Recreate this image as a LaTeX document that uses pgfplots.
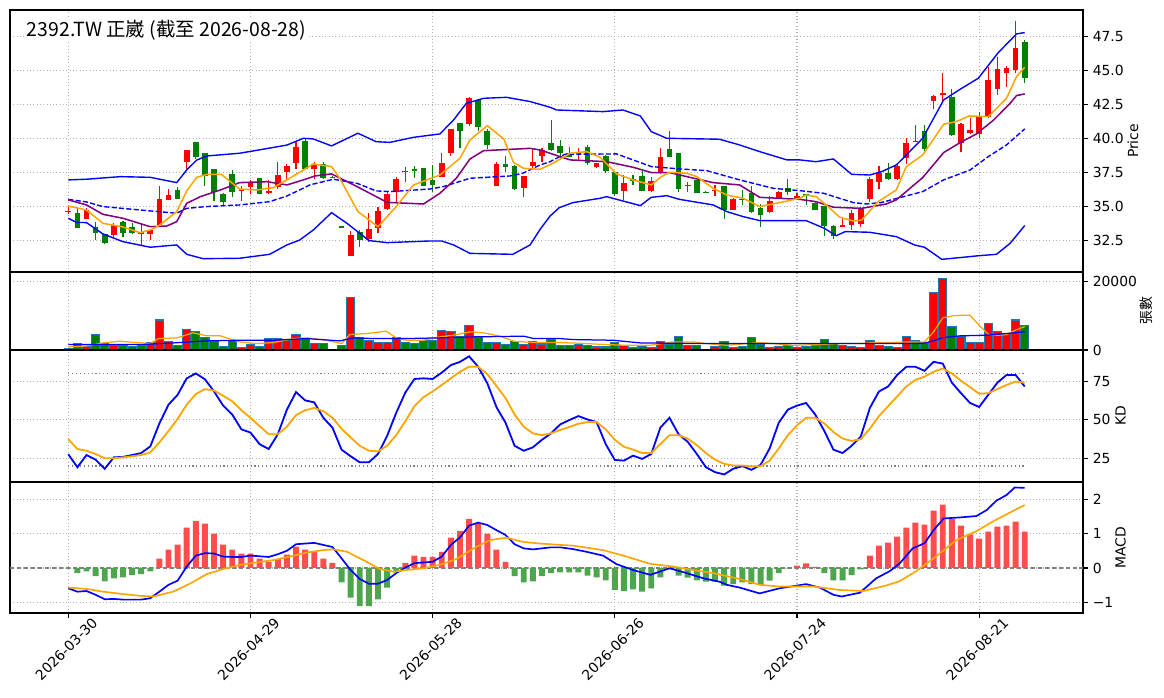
\documentclass[border=0pt]{standalone}
\usepackage{fontspec}
\setmainfont{DejaVu Sans}
\newfontfamily\cjk{Noto Sans CJK TC}
\usepackage{pgfplots}
\pgfplotsset{compat=1.18}
\usepackage{pgfplotstable}
\definecolor{cred}{RGB}{255,0,0}
\definecolor{cgreen}{RGB}{0,128,0}
\definecolor{hred}{RGB}{255,77,77}
\definecolor{hgreen}{RGB}{77,166,77}
\definecolor{vedge}{RGB}{31,119,180}
\definecolor{corange}{RGB}{255,165,0}
\definecolor{cpurple}{RGB}{128,0,128}
\definecolor{cblue}{RGB}{0,0,255}
\definecolor{gridc}{RGB}{176,176,176}

% ---------- candles ----------
\pgfplotstableread{
i o h l c
0 34.60 34.98 34.44 34.66
2 34.07 34.90 34.07 34.73
5 32.89 33.75 32.72 33.63
9 32.94 33.30 32.52 33.28
10 33.63 36.52 33.50 35.54
11 35.49 36.30 35.49 35.81
13 38.24 39.12 37.75 39.12
19 36.10 36.50 35.40 36.25
20 36.42 36.91 35.88 36.74
22 35.96 36.94 35.90 36.15
23 36.45 38.28 36.27 37.30
24 37.52 38.10 36.94 37.97
25 38.21 39.75 37.72 39.36
27 37.72 38.28 36.99 38.11
31 31.37 33.21 31.37 32.89
33 32.60 34.49 32.40 33.33
34 33.43 34.93 33.06 34.66
35 34.80 36.08 34.73 35.91
36 36.03 37.13 35.29 36.99
41 37.13 38.90 37.13 38.16
42 38.90 40.70 38.70 40.66
44 41.05 43.00 40.93 42.94
47 36.52 38.28 36.50 38.11
50 36.37 37.25 35.66 37.21
51 37.97 39.19 37.80 38.26
52 38.68 39.26 38.28 39.14
56 38.85 39.26 38.40 38.99
58 37.92 38.20 37.79 38.16
61 36.15 37.30 35.47 36.69
64 36.13 37.18 36.03 36.86
65 37.48 39.26 37.40 38.63
68 36.48 36.81 36.03 36.56
71 36.11 36.57 35.76 36.19
73 34.73 35.60 34.70 35.54
77 34.61 35.76 34.50 35.39
78 35.51 36.10 35.50 36.05
80 35.51 36.00 35.45 35.76
85 33.51 34.24 33.50 33.59
86 33.63 34.73 33.26 34.49
87 33.68 34.93 33.50 34.78
88 35.56 37.18 35.34 36.99
89 36.81 37.97 36.25 37.43
91 36.99 38.20 36.95 37.97
92 38.53 40.00 38.11 39.63
95 42.77 43.15 42.13 43.11
96 43.21 44.78 42.60 43.33
98 39.68 41.10 39.02 41.05
99 40.37 41.47 40.30 40.61
100 40.32 41.91 40.05 41.64
101 41.54 45.27 41.50 44.29
102 43.63 45.96 43.19 45.10
103 44.78 45.32 43.80 45.20
104 45.02 48.60 44.78 46.62
}\upc
\pgfplotstableread{
i o h l c
1 34.49 34.93 33.43 33.43
3 33.48 33.82 32.52 33.06
4 32.94 32.94 32.23 32.33
6 33.85 33.90 32.77 33.06
7 33.48 33.80 33.00 33.06
8 33.14 33.75 32.16 32.94
12 36.20 36.40 35.50 35.56
14 39.70 39.70 38.48 38.65
15 38.90 38.90 36.50 37.23
16 37.72 37.72 35.39 36.03
17 35.91 35.95 35.10 35.34
18 37.35 37.67 35.66 36.03
21 37.06 37.10 35.90 35.93
26 39.80 39.93 37.72 37.72
28 38.11 38.25 37.00 37.11
29 37.17 37.20 37.05 37.09
30 33.52 33.55 33.45 33.44
32 33.09 33.26 32.03 32.52
37 37.59 37.87 36.76 37.51
38 37.71 37.99 37.06 37.63
39 37.79 37.80 36.50 36.52
40 36.94 38.04 36.08 36.57
43 41.10 41.10 39.26 40.56
45 42.82 42.85 40.50 40.81
46 40.54 40.66 39.19 39.53
48 38.11 38.73 37.55 37.92
49 37.97 38.00 36.20 36.27
53 39.63 41.35 39.10 39.14
54 39.44 39.88 38.53 38.90
55 38.90 39.34 38.60 38.65
57 39.34 39.50 38.04 38.16
59 38.73 38.80 37.47 37.62
60 37.50 37.50 35.76 35.90
62 37.01 37.30 36.57 36.86
63 37.23 37.62 36.10 36.13
66 39.22 40.54 38.60 38.65
67 38.92 38.95 36.03 36.30
69 36.94 36.95 35.95 36.00
70 36.07 36.10 36.00 35.99
72 36.50 36.50 34.04 34.73
74 35.56 36.20 35.10 35.47
75 36.00 36.52 34.50 34.56
76 34.85 35.17 33.50 34.36
79 36.32 36.98 35.83 36.08
81 35.90 35.92 35.10 35.78
82 35.27 35.30 34.70 34.73
83 35.02 35.05 32.84 33.58
84 33.53 33.60 32.57 32.84
90 37.43 38.21 36.95 36.99
93 39.82 40.96 39.70 39.76
94 40.54 40.98 38.90 39.19
97 43.01 43.60 40.20 40.27
105 47.08 47.23 44.10 44.46
}\dnc

% ---------- volume ----------
\pgfplotstableread{
i v
0 490
2 980
5 1370
9 2160
10 8720
11 2550
13 6080
19 690
20 1570
22 3330
23 3330
24 2650
25 4600
27 1960
31 15290
33 2650
34 2160
35 2160
36 3720
41 5780
42 5490
44 7250
47 2160
50 1570
51 2350
52 1760
56 1670
58 880
61 1370
64 690
65 2550
68 1370
71 980
73 690
77 690
78 980
80 690
85 1370
86 980
87 690
88 2840
89 1370
91 690
92 4020
95 16860
96 20780
98 3820
99 2160
100 2160
101 7740
102 5490
103 4800
104 8720
}\vup
\pgfplotstableread{
i v
1 1960
3 4600
4 1860
6 1370
7 980
8 1370
12 1370
14 5490
15 3530
16 2550
17 1080
18 2650
21 980
26 3330
28 1960
29 100
30 1370
32 3630
37 2160
38 1960
39 2650
40 2650
43 3820
45 3630
46 2160
48 1570
49 2550
53 3040
54 1370
55 1370
57 1370
59 880
60 2160
62 690
63 980
66 1570
67 4020
69 1370
70 100
72 2550
74 980
75 3720
76 1670
79 1370
81 980
82 1370
83 3140
84 1860
90 980
93 2840
94 2160
97 6960
105 7250
}\vdn

% ---------- KD ----------
\pgfplotstableread{
i k d
0 27.6 37.4
1 19.2 31.0
2 27.1 29.9
3 24.1 27.8
4 18.2 25.0
5 25.6 25.0
6 25.9 25.6
7 27.1 26.3
8 28.4 27.1
9 32.7 28.8
10 47.6 35.3
11 59.8 42.7
12 66.2 50.6
13 76.9 59.8
14 80.1 66.7
15 76.3 69.9
16 68.4 69.0
17 59.2 65.6
18 53.4 62.0
19 43.8 56.2
20 41.7 51.3
21 34.2 45.9
22 31.0 40.6
23 40.6 40.6
24 56.6 45.5
25 68.0 53.0
26 62.6 56.2
27 61.3 57.7
28 51.3 55.6
29 44.9 51.3
30 30.6 44.2
31 26.3 38.5
32 22.4 33.1
33 22.4 29.9
34 27.8 29.5
35 39.5 33.1
36 54.5 40.0
37 67.7 49.1
38 76.5 58.8
39 76.9 64.7
40 76.5 68.4
41 80.6 72.6
42 85.5 76.9
43 87.6 81.2
44 91.2 84.4
45 84.4 84.4
46 73.7 79.7
47 58.3 72.0
48 48.1 64.1
49 33.1 53.4
50 29.9 45.5
51 32.1 41.2
52 37.0 40.0
53 41.2 41.2
54 47.0 43.4
55 49.8 45.3
56 52.4 47.4
57 50.2 48.5
58 48.5 48.5
59 34.2 43.8
60 23.9 37.0
61 23.5 32.5
62 26.7 30.6
63 24.6 28.4
64 27.8 28.4
65 44.9 34.2
66 51.3 40.0
67 40.6 40.0
68 35.7 37.8
69 27.8 33.5
70 19.2 28.4
71 16.0 24.1
72 14.5 21.4
73 18.2 20.3
74 19.9 20.3
75 17.5 19.7
76 20.7 19.9
77 31.4 23.5
78 48.1 31.4
79 56.6 40.0
80 59.2 46.4
81 60.9 51.3
82 53.4 51.3
83 42.7 47.6
84 30.6 42.1
85 28.4 37.8
86 33.1 36.3
87 39.1 37.4
88 57.7 44.2
89 68.4 52.4
90 71.6 58.8
91 79.1 65.2
92 84.4 71.6
93 84.4 75.9
94 81.8 78.0
95 87.6 81.2
96 86.5 83.3
97 74.1 80.1
98 67.3 75.4
99 60.9 71.2
100 58.3 66.9
101 66.2 67.3
102 74.1 69.9
103 79.1 72.6
104 79.1 74.8
105 71.6 74.1
}\kd

% ---------- MACD histogram ----------
\pgfplotstableread{
i h
10 0.27
11 0.53
12 0.68
13 1.17
14 1.37
15 1.29
16 1.00
17 0.68
18 0.53
19 0.42
20 0.42
21 0.27
22 0.18
23 0.26
24 0.39
25 0.62
26 0.53
27 0.49
28 0.27
29 0.15
37 0.15
38 0.36
39 0.32
40 0.32
41 0.47
42 0.88
43 1.08
44 1.43
45 1.30
46 1.00
47 0.53
48 0.18
80 0.07
81 0.13
82 0.03
88 0.36
89 0.65
90 0.74
91 0.91
92 1.17
93 1.32
94 1.26
95 1.67
96 1.84
97 1.42
98 1.23
99 0.98
100 0.85
101 1.06
102 1.20
103 1.23
104 1.35
105 1.06
}\hup
\pgfplotstableread{
i h
0 -0.01
1 -0.15
2 -0.10
3 -0.24
4 -0.39
5 -0.30
6 -0.27
7 -0.21
8 -0.18
9 -0.10
30 -0.42
31 -0.86
32 -1.11
33 -1.11
34 -0.91
35 -0.57
36 -0.13
49 -0.24
50 -0.42
51 -0.39
52 -0.24
53 -0.15
54 -0.13
55 -0.13
56 -0.13
57 -0.22
58 -0.27
59 -0.36
60 -0.64
61 -0.67
62 -0.62
63 -0.69
64 -0.59
65 -0.27
66 -0.02
67 -0.22
68 -0.28
69 -0.36
70 -0.40
71 -0.40
72 -0.51
73 -0.47
74 -0.42
75 -0.47
76 -0.49
77 -0.37
78 -0.15
79 -0.01
83 -0.15
84 -0.36
85 -0.36
86 -0.21
87 -0.04
}\hdn

\pgfplotsset{
  panel/.style={
    scale only axis, width=772.56bp, xmin=-6.4, xmax=111.4,
    anchor=north west,
    xtick={0,20,40,60,80,100},
    ytick pos=right, yticklabel pos=right,
    tick align=outside, major tick length=3.5bp,
    grid=major, grid style={gridc, dotted, line width=0.8bp},
    axis line style={line width=0.8bp},
    every tick/.style={black, line width=0.8bp},
    tick label style={font=\fontsize{10bp}{12bp}\selectfont},
    clip=true,
  },
  upper/.style={xmajorticks=false},
  wick/.style={draw=none, mark=none, forget plot,
    error bars/.cd, y dir=plus, y explicit, error mark=none,
    error bar style={draw=#1, line width=0.8bp}},
  body/.style={draw=none, mark=none, forget plot,
    error bars/.cd, y dir=plus, y explicit, error mark=none,
    error bar style={draw=#1, line width=4.1bp}},
}

\begin{document}
\begin{tikzpicture}
\useasboundingbox (0,0) rectangle (838.08bp,-502.56bp);

% ================= PRICE =================
\begin{axis}[panel, upper, at={(7.2bp,-7.2bp)}, height=188.64bp,
  ymin=30.17, ymax=49.43,
  ytick={32.5,35,37.5,40,42.5,45,47.5},
  yticklabels={32.5,35.0,37.5,40.0,42.5,45.0,47.5}]
\addplot[wick=cred] table[x=i, y=l, y error expr=\thisrow{h}-\thisrow{l}] {\upc};
\addplot[wick=cgreen] table[x=i, y=l, y error expr=\thisrow{h}-\thisrow{l}] {\dnc};
\addplot[body=cred] table[x=i, y=o, y error expr=\thisrow{c}-\thisrow{o}] {\upc};
\addplot[body=cgreen] table[x=i, y=c, y error expr=\thisrow{o}-\thisrow{c}] {\dnc};
% upper band
\addplot[cblue, line width=1bp] coordinates {
(0,36.94) (2,36.99) (5.7,37.18) (9,37.13) (11.9,36.74) (13,37.67) (14.1,38.4) (15.2,38.7) (18.8,38.9) (20.3,39.07) (24,39.5) (25.8,40.0) (26.9,39.95) (28.9,39.44) (31.8,40.37) (33.8,39.75) (35.3,39.7) (37.9,40.07) (40.8,40.32) (42.3,41.35) (43.7,42.57) (45.6,42.94) (48.1,43.01) (50.7,42.7) (52.9,42.28) (53.6,42.08) (58.7,41.96) (60.9,42.08) (62.8,41.64) (64.0,40.49) (65.7,40.0) (71.5,39.93) (73.7,39.51) (75.9,39.02) (78.9,38.41) (80.3,38.41) (82.1,38.28) (84,38.48) (86,37.35) (88,37.3) (89.3,37.55) (90.9,38.04) (92,38.77) (93.8,40.0) (96.1,42.82) (97.9,43.6) (99.9,44.41) (102.1,46.3) (104.1,47.67) (105,47.77)};
% lower band
\addplot[cblue, line width=1bp] coordinates {
(0,34.12) (0.9,33.82) (2,33.8) (3.8,32.97) (6,32.4) (9,31.99) (11.9,32.16) (13,31.47) (14.8,31.15) (18.8,31.18) (22.1,31.47) (24,32.16) (25.4,32.52) (26.9,33.26) (28.9,34.53) (30.6,33.75) (33,32.48) (35,32.33) (39.7,32.45) (41,32.45) (42.3,32.16) (44.1,31.54) (48.8,31.47) (50.7,32.16) (51.8,33.31) (52.9,34.29) (53.9,34.9) (55.4,35.27) (58.4,35.59) (59.1,35.71) (62.8,35.05) (64,35.66) (65.7,35.78) (67.1,35.51) (70.8,35.1) (72.3,34.61) (74.1,34.24) (75.9,33.95) (81,33.95) (83,33.38) (84.3,32.84) (85.3,33.14) (88,33.09) (90.9,32.77) (92.9,32.16) (94,31.99) (95.9,31.1) (98.2,31.25) (100,31.37) (101.9,31.47) (103.4,32.28) (105,33.58)};
% middle band
\addplot[cblue, line width=1bp, dash pattern=on 3.7bp off 1.6bp] coordinates {
(0,35.51) (2,35.32) (3.8,34.98) (9,34.66) (11.9,34.49) (13,34.85) (15.2,34.98) (18.8,35.1) (22.1,35.34) (24,35.76) (25.4,36.2) (26.5,36.57) (29.1,36.99) (31.7,36.69) (33.8,36.13) (35.3,36.08) (39.7,36.27) (41.2,36.45) (44.1,37.06) (48.5,37.23) (49.9,37.43) (51.8,38.04) (52.9,38.28) (53.6,38.53) (54.5,38.82) (60.2,38.85) (64,37.92) (67.1,37.75) (70.1,37.62) (73.7,36.94) (77.4,36.32) (80.3,36.15) (82.9,35.96) (86.2,35.27) (87.6,35.17) (89.2,35.27) (93.8,36.08) (96.1,36.94) (99,37.67) (101,38.65) (103,39.51) (105,40.69)};
% MA10
\addplot[cpurple, line width=1.1bp] coordinates {
(0,35.47) (2,35.1) (3.8,34.41) (6,34.12) (9,33.5) (10.8,33.55) (11.9,33.87) (13,35.22) (14.5,35.71) (16.7,36.2) (18.8,36.74) (21.8,36.81) (24,36.57) (25.8,36.94) (27.1,37.23) (28.9,37.38) (31.7,36.45) (35,35.29) (39,35.17) (40.8,35.96) (42.6,37.06) (44.1,38.48) (45.6,39.09) (50.7,39.26) (51.8,39.14) (54,38.65) (55.1,38.41) (59.1,38.28) (62,37.87) (64,37.48) (66,37.48) (67.9,37.18) (70.8,36.74) (73.7,36.57) (75.9,35.66) (80.3,35.51) (82.1,35.34) (84,34.93) (87.1,34.85) (89.8,35.17) (90.9,35.47) (93.8,37.11) (96.1,38.95) (97.9,39.68) (99.7,40.32) (101.6,41.35) (103.4,42.57) (104.1,43.14) (105,43.26)};
% MA5
\addplot[corange, line width=1.1bp] coordinates {
(0,35.02) (2,34.73) (3.8,33.75) (5.9,33.5) (7.9,33.06) (9,33.26) (9.9,33.55) (11.9,34.61) (13,36.13) (14.1,37.13) (15.2,37.35) (16.8,37.35) (18.8,36.27) (20.7,36.2) (22.5,36.37) (24.3,37.06) (26.9,38.11) (28.9,37.92) (29.8,37.06) (31.8,34.61) (34,33.5) (36,34.98) (37.9,36.57) (40.8,37.3) (43,38.53) (44.1,39.88) (46,40.93) (47.8,39.95) (48.9,38.21) (50,37.79) (51.8,37.72) (53.2,38.16) (55.1,38.9) (56.9,39.02) (58.4,38.6) (60.2,37.38) (62,36.94) (64,36.57) (65.1,37.18) (66,37.5) (67.9,37.43) (69,37.18) (70.8,36.32) (72.3,35.83) (74.1,35.59) (75.9,34.98) (78.1,35.27) (80.3,35.59) (81,35.83) (82.1,35.71) (83.2,35.1) (84.7,34.19) (86.2,33.92) (87.1,33.99) (88.9,35.34) (90.9,36.2) (92,37.92) (93.8,38.77) (96.1,41.03) (97.5,41.23) (98.9,41.64) (101,41.59) (103,42.94) (104.1,44.53) (105,45.22)};
\end{axis}

% ================= VOLUME =================
\begin{axis}[panel, upper, at={(7.2bp,-195.84bp)}, height=56.16bp,
  ymin=0, ymax=22700, ytick={0,20000}, yticklabels={0,20000},
  scaled y ticks=false]
\addplot[ybar, bar width=0.9, bar shift=0pt, fill=cred, draw=vedge, line width=0.8bp] table[x=i, y=v] {\vup};
\addplot[ybar, bar width=0.9, bar shift=0pt, fill=cgreen, draw=vedge, line width=0.8bp] table[x=i, y=v] {\vdn};
\addplot[corange, line width=0.9bp] coordinates {
(0,880) (2,1180) (3.8,2060) (5.7,2550) (7.5,2160) (9,1860) (9.9,3330) (11.9,3530) (13.7,5000) (15.2,4120) (16.7,4120) (18.8,2350) (20.7,1860) (22.5,2160) (24.7,3330) (26.2,3530) (28.4,2840) (30,1860) (30.9,4510) (32.8,4800) (34.9,5490) (36,3530) (37.1,2840) (39,2840) (40.8,3820) (42.3,4310) (44.1,5290) (45.6,5000) (47.4,4020) (48.9,2550) (51.1,2160) (54,2160) (56.2,1960) (59.1,1570) (61.3,1370) (63.9,1370) (66.4,2350) (68.6,2350) (70.1,1860) (72.3,1370) (74.5,1860) (75.9,2160) (77.4,1860) (79.6,1370) (82.1,1570) (84.7,1860) (86.9,1860) (88.4,2160) (90.2,2160) (92,2350) (94,2350) (95,5300) (96,9330) (97,9920) (98,10120) (99,10120) (100,7180) (101,4570) (102,4270) (103,4470) (104,5780) (105,6800)};
\addplot[cblue, line width=0.9bp] coordinates {
(0,1570) (4.2,1570) (7.9,1570) (11.5,2060) (15.2,2650) (18.8,2840) (22.5,2840) (26.2,3330) (29.8,2650) (31.3,3530) (33.5,3330) (37.1,3330) (40.8,3530) (44.5,3820) (50,4020) (51.1,3330) (54,3330) (55.4,3040) (59.8,2840) (62.8,2060) (70.1,1860) (77.4,1860) (84.7,1860) (93,1900) (94,2000) (95,2700) (96,3600) (97.9,4120) (100.8,4310) (103,4800) (105,5290)};
\end{axis}

% ================= KD =================
\begin{axis}[panel, upper, at={(7.2bp,-252bp)}, height=95.04bp,
  ymin=9.6, ymax=95.3, ytick={25,50,75}, yticklabels={25,50,75}]
\addplot[gray, dotted, line width=0.8bp] coordinates {(0,80) (105,80)};
\addplot[gray, dotted, line width=0.8bp] coordinates {(0,20) (105,20)};
\addplot[cblue, line width=1.3bp] table[x=i, y=k] {\kd};
\addplot[corange, line width=1.3bp] table[x=i, y=d] {\kd};
\end{axis}

% ================= MACD =================
\begin{axis}[panel, at={(7.2bp,-347.04bp)}, height=94.32bp,
  ymin=-1.31, ymax=2.50, ytick={-1,0,1,2}, yticklabels={−1,0,1,2},
  xtick pos=bottom,
  xticklabels={2026-03-30,2026-04-29,2026-05-28,2026-06-26,2026-07-24,2026-08-21},
  xticklabel style={rotate=45, anchor=center, xshift=-16.8bp, yshift=-14.8bp}]
\addplot[gray, line width=0.8bp, dash pattern=on 3bp off 2bp] coordinates {(-6.4,0) (111.4,0)};
\addplot[ybar, bar width=0.65, bar shift=0pt, fill=hred, draw=none] table[x=i, y=h] {\hup};
\addplot[ybar, bar width=0.65, bar shift=0pt, fill=hgreen, draw=none] table[x=i, y=h] {\hdn};
\addplot[cblue, line width=1.2bp] coordinates {
(0,-0.59) (1,-0.69) (2,-0.67) (3,-0.78) (4,-0.91) (5,-0.90) (6,-0.92) (7,-0.92) (8,-0.92) (9,-0.88) (10,-0.69) (11,-0.49) (12,-0.37) (13,0.04) (14,0.36) (15,0.43) (16,0.42) (17,0.33) (18,0.32) (19,0.32) (20,0.36) (21,0.34) (22,0.32) (23,0.40) (24,0.50) (25,0.69) (26,0.71) (27,0.73) (28,0.67) (29,0.61) (30,0.28) (31,-0.06) (32,-0.32) (33,-0.46) (34,-0.46) (35,-0.35) (36,-0.15) (37,0.01) (38,0.14) (39,0.16) (40,0.18) (41,0.33) (42,0.67) (43,0.89) (44,1.23) (45,1.32) (46,1.25) (47,1.10) (48,0.96) (49,0.69) (50,0.57) (51,0.54) (52,0.57) (53,0.60) (54,0.60) (55.4,0.55) (56.9,0.47) (58.7,0.36) (60.2,0.11) (62,-0.06) (63.9,-0.20) (66,-0.01) (67.9,-0.15) (69.7,-0.30) (71.5,-0.40) (72.3,-0.49) (73.7,-0.57) (75.9,-0.74) (78.1,-0.59) (81,-0.47) (82.5,-0.57) (84,-0.78) (84.9,-0.83) (86.9,-0.72) (88.7,-0.30) (90.2,-0.09) (91.3,0.14) (92.7,0.57) (94,0.72) (95,1.10) (96.1,1.44) (97.9,1.47) (99.7,1.51) (100.8,1.68) (101.9,1.96) (103,2.12) (103.9,2.34) (105,2.33)};
\addplot[corange, line width=1.2bp] coordinates {
(0,-0.57) (2,-0.61) (3.85,-0.69) (6.04,-0.76) (7.87,-0.81) (9.33,-0.83) (11.5,-0.69) (13.4,-0.45) (15.2,-0.18) (17,-0.03) (18.85,0.09) (20.7,0.16) (22.5,0.23) (24.3,0.33) (26.2,0.45) (28,0.52) (29.1,0.54) (30.6,0.47) (32.4,0.23) (34.2,-0.03) (35.7,-0.11) (37.1,-0.06) (39,-0.01) (40.8,0.09) (42.6,0.26) (44.5,0.57) (46.3,0.81) (48.1,0.88) (49.9,0.76) (51.8,0.71) (54,0.67) (55.4,0.65) (58.7,0.52) (60.9,0.36) (63.9,0.12) (66.4,0.04) (68.6,-0.06) (70.8,-0.15) (73.7,-0.32) (75.9,-0.49) (78.1,-0.54) (81.8,-0.54) (84.7,-0.64) (87.3,-0.67) (89.8,-0.51) (91.3,-0.38) (93.1,-0.09) (95,0.28) (97.5,0.81) (99.7,1.07) (101.5,1.35) (103,1.56) (104.1,1.71) (105,1.83)};
\end{axis}

% ---------- labels ----------
\node[rotate=90, font=\fontsize{10bp}{12bp}\selectfont] at (815.8bp,-101.5bp) {Price};
\node[rotate=90, font=\cjk\fontsize{10bp}{12bp}\selectfont] at (825.1bp,-223.9bp) {張數};
\node[rotate=90, font=\fontsize{10bp}{12bp}\selectfont] at (806.8bp,-299.5bp) {KD};
\node[rotate=90, font=\fontsize{10bp}{12bp}\selectfont] at (806.8bp,-394.6bp) {MACD};
\node[anchor=west, fill=white, inner sep=1bp, font=\cjk\fontsize{14bp}{16bp}\selectfont] at (18.2bp,-21.8bp) {2392.TW 正崴 (截至 2026-08-28)};
\end{tikzpicture}
\end{document}
